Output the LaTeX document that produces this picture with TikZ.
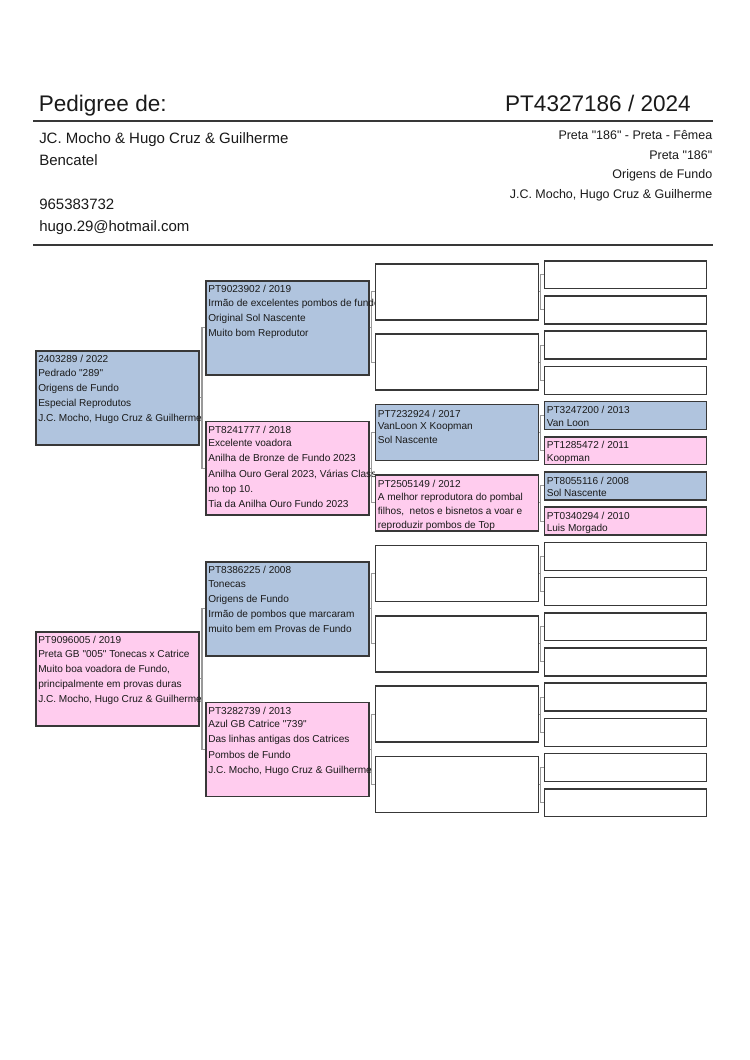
\documentclass[tikz,border=0pt]{standalone}
\usepackage{fontspec}
\newfontfamily\lib{Liberation Sans}
\definecolor{pblue}{HTML}{B0C4DE}
\definecolor{ppink}{HTML}{FFCCEE}
\definecolor{bord}{HTML}{383838}
\definecolor{conn}{HTML}{999999}
\definecolor{ink}{HTML}{1A1A1A}
\newcommand\pbracket[3]{%
  \draw[connline] (#2.west) -- ++(-3,0) |- (#3.west);
  \draw[connline] (#1.east) -- ([xshift=-2.4pt]#2.west |- #1.east);}
\newcommand\ptxt[5]{%
  \begin{scope}
  \clip ([yshift=1pt]#2.north west) rectangle ([xshift=134.9pt,yshift=-4pt]#2.south west);
  \node[#3] (#1) at ([xshift=2.4pt,yshift=-#4]#2.north west) {\begin{tabular}[t]{@{}l@{}}#5\end{tabular}};
  \end{scope}}
\begin{document}
\begin{tikzpicture}[x=0.7937pt,y=-0.7937pt,
  box/.style={draw=bord, line width=1.2pt, rectangle, inner sep=0pt, anchor=north west},
  big/.style={box, minimum width=129.4pt, minimum height=74.6pt},
  mid/.style={box, minimum width=129.4pt, minimum height=44.45pt},
  sml/.style={box, minimum width=128.6pt, minimum height=22.2pt},
  blu/.style={fill=pblue}, pnk/.style={fill=ppink}, emp/.style={fill=white},
  connline/.style={draw=conn, line width=0.8pt},
  rule/.style={draw=bord, line width=1.3pt},
  txa/.style={anchor=base west, inner sep=0pt, text=ink, font=\lib\fontsize{8}{12.1}\selectfont},
  txb/.style={anchor=base west, inner sep=0pt, text=ink, font=\lib\fontsize{8}{11.1}\selectfont},
  hdr/.style={inner sep=0pt, text=ink}]
\fill[white] (0,0) rectangle (750,1060);
\useasboundingbox (0,0) rectangle (750,1060);

% header
\node[hdr, anchor=base west, font=\lib\fontsize{17.9}{20}\selectfont] (title) at (38.5,111) {Pedigree de:};
\node[hdr, anchor=base east, font=\lib\fontsize{17.9}{20}\selectfont] (ring) at (691,111) {PT4327186 / 2024};
\draw[rule] (33,121) -- (713,121);
\node[hdr, anchor=base west, font=\lib\fontsize{11.9}{14}\selectfont] (own1) at (39,143.5) {JC. Mocho \& Hugo Cruz \& Guilherme};
\node[hdr, anchor=base west, font=\lib\fontsize{11.9}{14}\selectfont] (own2) at (39,165.5) {Bencatel};
\node[hdr, anchor=base west, font=\lib\fontsize{11.9}{14}\selectfont] (own3) at (39,209.5) {965383732};
\node[hdr, anchor=base west, font=\lib\fontsize{11.9}{14}\selectfont] (own4) at (39,231.5) {hugo.29@hotmail.com};
\node[hdr, anchor=base east, font=\lib\fontsize{9.9}{12}\selectfont] (inf1) at (712.5,139.5) {Preta "186" - Preta - Fêmea};
\node[hdr, anchor=base east, font=\lib\fontsize{9.9}{12}\selectfont] (inf2) at (712.5,159) {Preta "186"};
\node[hdr, anchor=base east, font=\lib\fontsize{9.9}{12}\selectfont] (inf3) at (712.5,178.5) {Origens de Fundo};
\node[hdr, anchor=base east, font=\lib\fontsize{9.9}{12}\selectfont] (inf4) at (712.5,198) {J.C. Mocho, Hugo Cruz \& Guilherme};
\draw[rule] (33,245) -- (713,245);

% column 1
\node[big, blu] (A) at (35,350) {};
\node[big, pnk] (B) at (35,631) {};
% column 2
\node[big, blu] (C) at (205,280) {};
\node[big, pnk] (D) at (205,420.5) {};
\node[big, blu] (E) at (205,561) {};
\node[big, pnk] (F) at (205,701.5) {};
% column 3
\node[mid, emp] (g0) at (374.5,263) {};
\node[mid, emp] (g1) at (374.5,333.4) {};
\node[mid, blu] (g2) at (374.5,403.8) {};
\node[mid, pnk] (g3) at (374.5,474.2) {};
\node[mid, emp] (g4) at (374.5,544.6) {};
\node[mid, emp] (g5) at (374.5,615) {};
\node[mid, emp] (g6) at (374.5,685.4) {};
\node[mid, emp] (g7) at (374.5,755.8) {};
% column 4
\foreach \j in {0,...,15} {
  \pgfmathsetmacro\yy{260+35.2*\j}
  \ifnum\j=4 \node[sml, blu] (h\j) at (543.5,\yy) {};
  \else\ifnum\j=5 \node[sml, pnk] (h\j) at (543.5,\yy) {};
  \else\ifnum\j=6 \node[sml, blu] (h\j) at (543.5,\yy) {};
  \else\ifnum\j=7 \node[sml, pnk] (h\j) at (543.5,\yy) {};
  \else \node[sml, emp] (h\j) at (543.5,\yy) {};
  \fi\fi\fi\fi
}

% connectors
\pbracket{A}{C}{D}
\pbracket{B}{E}{F}
\pbracket{C}{g0}{g1}
\pbracket{D}{g2}{g3}
\pbracket{E}{g4}{g5}
\pbracket{F}{g6}{g7}
\pbracket{g0}{h0}{h1}
\pbracket{g1}{h2}{h3}
\pbracket{g2}{h4}{h5}
\pbracket{g3}{h6}{h7}
\pbracket{g4}{h8}{h9}
\pbracket{g5}{h10}{h11}
\pbracket{g6}{h12}{h13}
\pbracket{g7}{h14}{h15}

% texts
\ptxt{At}{A}{txa}{10.3pt}{2403289 / 2022\\[-1.6pt] Pedrado "289"\\ Origens de Fundo\\ Especial Reprodutos\\ J.C. Mocho, Hugo Cruz \& Guilherme}
\ptxt{Bt}{B}{txa}{10.3pt}{PT9096005 / 2019\\[-1.6pt] Preta GB "005" Tonecas x Catrice\\ Muito boa voadora de Fundo,\\ principalmente em provas duras\\ J.C. Mocho, Hugo Cruz \& Guilherme}
\ptxt{Ct}{C}{txa}{10.3pt}{PT9023902 / 2019\\[-1.6pt] Irmão de excelentes pombos de fundo\\ Original Sol Nascente\\ Muito bom Reprodutor}
\ptxt{Dt}{D}{txa}{10.3pt}{PT8241777 / 2018\\[-1.6pt] Excelente voadora\\ Anilha de Bronze de Fundo 2023\\ Anilha Ouro Geral 2023, Várias Classificações\\ no top 10.\\ Tia da Anilha Ouro Fundo 2023}
\ptxt{Et}{E}{txa}{10.3pt}{PT8386225 / 2008\\[-1.6pt] Tonecas\\ Origens de Fundo\\ Irmão de pombos que marcaram\\ muito bem em Provas de Fundo}
\ptxt{Ft}{F}{txa}{10.3pt}{PT3282739 / 2013\\[-1.6pt] Azul GB Catrice "739"\\ Das linhas antigas dos Catrices\\ Pombos de Fundo\\ J.C. Mocho, Hugo Cruz \& Guilherme}
\ptxt{g2t}{g2}{txb}{10.7pt}{PT7232924 / 2017\\[-1.2pt] VanLoon X Koopman\\ Sol Nascente}
\ptxt{g3t}{g3}{txb}{10.7pt}{PT2505149 / 2012\\[-1.2pt] A melhor reprodutora do pombal\\ filhos,\ \ netos e bisnetos a voar e\\ reproduzir pombos de Top}
\ptxt{h4t}{h4}{txb}{10.2pt}{PT3247200 / 2013\\[-1.2pt] Van Loon}
\ptxt{h5t}{h5}{txb}{10.2pt}{PT1285472 / 2011\\[-1.2pt] Koopman}
\ptxt{h6t}{h6}{txb}{10.2pt}{PT8055116 / 2008\\[-1.2pt] Sol Nascente}
\ptxt{h7t}{h7}{txb}{10.2pt}{PT0340294 / 2010\\[-1.2pt] Luis Morgado}
\end{tikzpicture}
\end{document}
